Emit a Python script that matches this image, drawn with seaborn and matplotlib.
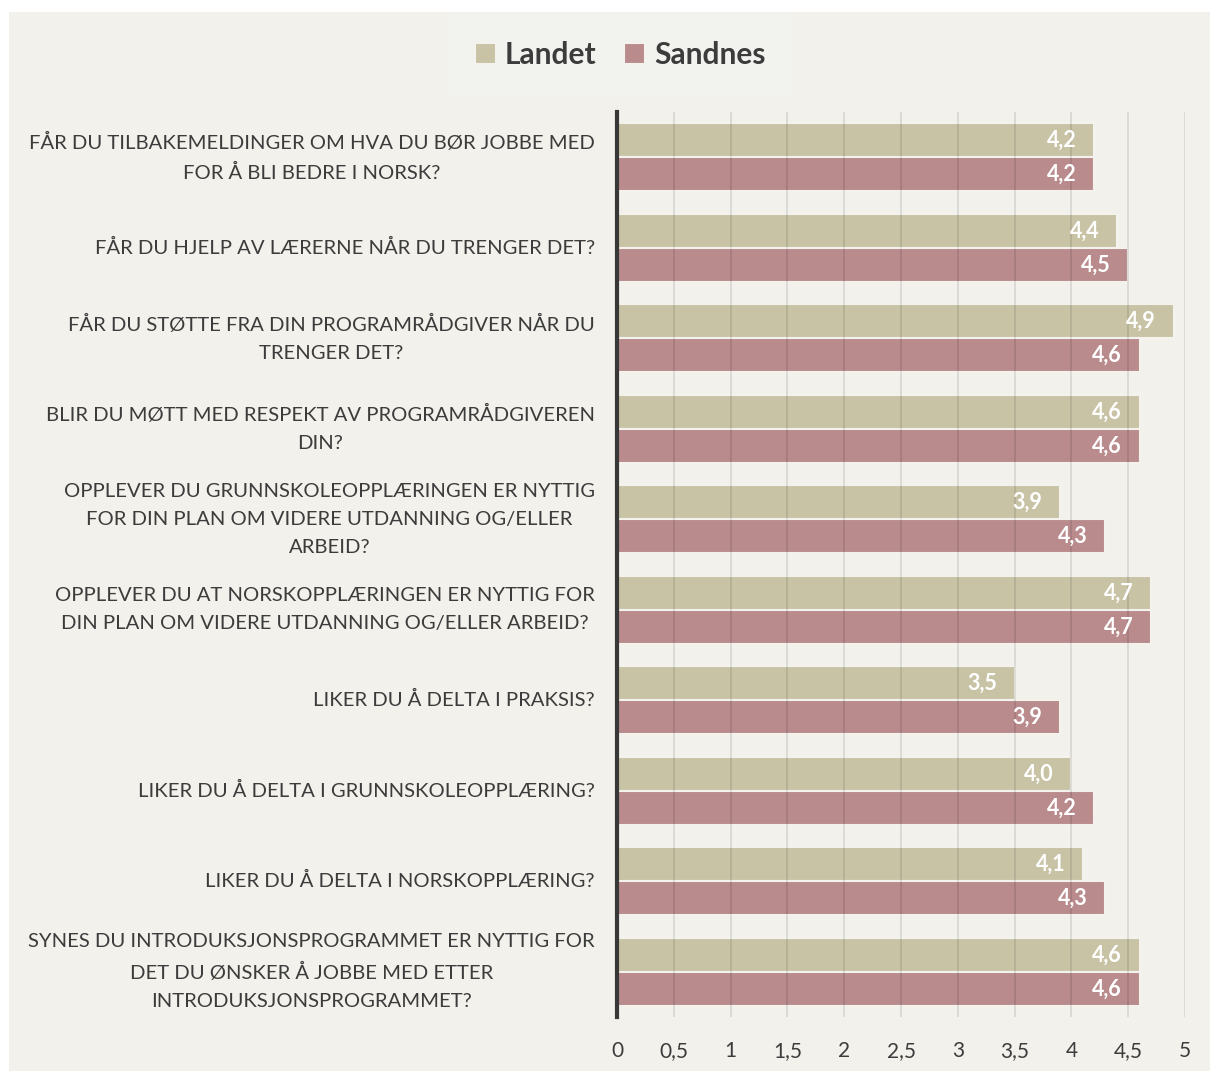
import matplotlib
matplotlib.use('Agg')
import matplotlib.pyplot as plt
from matplotlib.patches import Rectangle
import numpy as np
import pandas as pd
import seaborn as sns

questions = [
    "FÅR DU TILBAKEMELDINGER OM HVA DU BØR JOBBE MED\nFOR Å BLI BEDRE I NORSK?",
    "FÅR DU HJELP AV LÆRERNE NÅR DU TRENGER DET?",
    "FÅR DU STØTTE FRA DIN PROGRAMRÅDGIVER NÅR DU\nTRENGER DET?",
    "BLIR DU MØTT MED RESPEKT AV PROGRAMRÅDGIVEREN\nDIN?",
    "OPPLEVER DU GRUNNSKOLEOPPLÆRINGEN ER NYTTIG\nFOR DIN PLAN OM VIDERE UTDANNING OG/ELLER\nARBEID?",
    "OPPLEVER DU AT NORSKOPPLÆRINGEN ER NYTTIG FOR\nDIN PLAN OM VIDERE UTDANNING OG/ELLER ARBEID?",
    "LIKER DU Å DELTA I PRAKSIS?",
    "LIKER DU Å DELTA I GRUNNSKOLEOPPLÆRING?",
    "LIKER DU Å DELTA I NORSKOPPLÆRING?",
    "SYNES DU INTRODUKSJONSPROGRAMMET ER NYTTIG FOR\nDET DU ØNSKER Å JOBBE MED ETTER\nINTRODUKSJONSPROGRAMMET?",
]
landet = [4.2, 4.4, 4.9, 4.6, 3.9, 4.7, 3.5, 4.0, 4.1, 4.6]
sandnes = [4.2, 4.5, 4.6, 4.6, 4.3, 4.7, 3.9, 4.2, 4.3, 4.6]
series = ["Landet", "Sandnes"]
colors = ["#C9C3A6", "#BA8B8D"]
xticks = [0, 0.5, 1, 1.5, 2, 2.5, 3, 3.5, 4, 4.5, 5]

df = pd.DataFrame({
    "question": questions * 2,
    "value": landet + sandnes,
    "series": [series[0]] * len(questions) + [series[1]] * len(questions),
})

bg = "#F2F1EB"
txt = "#3C3C3C"
sns.set_style("white")
plt.rcParams['font.family'] = ['Lato', 'DejaVu Sans']

fig = plt.figure(figsize=(12.1, 10.71), dpi=100)
fig.patch.set_facecolor("white")
fig.patches.append(Rectangle((9 / 1210, 0), 1 - 9 / 1210, 1 - 12 / 1071,
                             transform=fig.transFigure, facecolor=bg,
                             edgecolor="none", zorder=-10))

# axes: x from 617 to 1185 px, y from 112 to 1017 px
ax = fig.add_axes([617 / 1210, 1 - 1017 / 1071, 568 / 1210, 905 / 1071])
ax.set_facecolor(bg)

sns.barplot(data=df, y="question", x="value", hue="series", orient="h",
            palette=colors, width=0.75, ax=ax, edgecolor="#F4F2EC",
            linewidth=1.5, saturation=1, legend=True, zorder=1)

for cont in ax.containers:
    labs = [f"{b.get_width():.1f}".replace(".", ",") for b in cont]
    ax.bar_label(cont, labels=labs, padding=-34, color="white",
                 fontsize=15.5, fontweight="bold")

ax.set_xlim(0, 5)
ax.set_xticks(xticks)
ax.set_xticklabels([f"{t:g}".replace(".", ",") for t in xticks],
                   fontsize=15, color=txt)
ax.grid(axis="x", color="black", alpha=0.1, linewidth=1.3, zorder=3)
ax.set_axisbelow(False)
ax.tick_params(axis="x", length=0, pad=17)
ax.tick_params(axis="y", length=0, pad=16)
ax.set_yticklabels(questions, fontsize=14.6, color=txt, linespacing=1.8,
                   multialignment="center", va="center")
ax.set_xlabel("")
ax.set_ylabel("")
for s in ["top", "right", "bottom"]:
    ax.spines[s].set_visible(False)
ax.spines["left"].set_color("#383838")
ax.spines["left"].set_linewidth(3)
ax.spines["left"].set_zorder(5)

handles, labels = ax.get_legend_handles_labels()
ax.legend(handles, labels, loc="center", bbox_to_anchor=(620 / 1210, 1 - 55 / 1071),
          bbox_transform=fig.transFigure, ncol=2, frameon=True,
          facecolor="#F3F3EF", edgecolor="none", fancybox=False,
          prop={"size": 21.5, "weight": "bold"}, labelcolor=txt,
          handlelength=0.72, handleheight=0.72, handletextpad=0.3,
          columnspacing=0.9, borderpad=0.9)

fig.savefig("out.png", dpi=100, facecolor=fig.get_facecolor())
